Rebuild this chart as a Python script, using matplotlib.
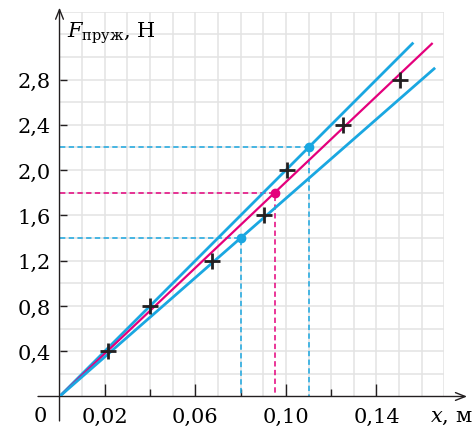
import numpy as np
import matplotlib
matplotlib.use("Agg")
import matplotlib.pyplot as plt

plt.rcParams["font.family"] = ["DejaVu Serif"]
plt.rcParams["mathtext.fontset"] = "dejavuserif"

# measured points (x in m, F in N)
x_meas = [0.0215, 0.040, 0.0675, 0.0905, 0.1003, 0.1254, 0.1504]
f_meas = [0.4, 0.8, 1.2, 1.6, 2.0, 2.4, 2.8]

# fitted lines through origin: marked point on each line and where it ends
line_x = [0.11, 0.095, 0.08]
line_f = [2.2, 1.8, 1.4]
line_end = [0.1563, 0.1648, 0.1659]
line_col = ["#1aa7e1", "#e4007c", "#1aa7e1"]
line_lw = [2.0, 1.6, 2.0]

x_major = [0.02, 0.06, 0.10, 0.14]
x_minor = [0.04, 0.08, 0.12]
y_ticks = [0.4, 0.8, 1.2, 1.6, 2.0, 2.4, 2.8]

fig = plt.figure(figsize=(4.75, 4.27), dpi=100)
ax = fig.add_axes([0.1253, 0.0691, 0.8103, 0.9014])
ax.set_xlim(0, 0.17)
ax.set_ylim(0, 3.4)

# background grid
for gx in np.arange(0.01, 0.171, 0.01):
    ax.axvline(gx, color="#e3e3e3", lw=1.1, zorder=0)
for gy in np.arange(0.2, 3.41, 0.2):
    ax.axhline(gy, color="#e3e3e3", lw=1.1, zorder=0)

for s in ax.spines.values():
    s.set_visible(False)

# axes with arrows
arrow = dict(arrowstyle="->,head_length=0.7,head_width=0.28", lw=1.0, color="#231f20",
             shrinkA=0, shrinkB=0)
ax.annotate("", xy=(0.18, 0), xytext=(-0.0095, 0), annotation_clip=False, arrowprops=arrow)
ax.annotate("", xy=(0, 3.435), xytext=(0, -0.216), annotation_clip=False, arrowprops=arrow)

# lines, dashed projections and dots
for px, pf, xe, c, lw in zip(line_x, line_f, line_end, line_col, line_lw):
    k = pf / px
    ax.plot([0, xe], [0, k * xe], color=c, lw=lw, zorder=3, solid_capstyle="butt")
    ax.plot([0, px, px], [pf, pf, 0], color=c, lw=1.1, dashes=(3.5, 2.2), zorder=2)
    ax.plot([px], [pf], "o", color=c, ms=6, zorder=4)

ax.plot(x_meas, f_meas, "+", color="#231f20", ms=11, mew=2.0, zorder=5)

# ticks
ax.set_xticks(x_major)
ax.set_xticks(x_minor, minor=True)
ax.set_xticklabels([f"{v:.2f}".replace(".", ",") for v in x_major])
ax.set_yticks(y_ticks)
ax.set_yticklabels([f"{v:.1f}".replace(".", ",") for v in y_ticks])
ax.tick_params(axis="x", which="major", direction="in", length=8.4, width=1.0, pad=7.5,
               labelsize=15, color="#231f20")
ax.tick_params(axis="x", which="minor", direction="in", length=4.8, width=1.0, color="#231f20")
ax.tick_params(axis="y", direction="in", length=4.8, width=1.0, pad=6.5, labelsize=15,
               color="#231f20")

ax.text(-0.0086, -0.17, "0", fontsize=15, ha="center", va="center")
ax.text(0.0033, 3.176, r"$F_{\mathrm{пруж}}$, Н", fontsize=15, ha="left", va="baseline")
ax.text(0.1637, -0.214, r"$x$, м", fontsize=15, ha="left", va="baseline")

fig.savefig("out.png", dpi=100)
